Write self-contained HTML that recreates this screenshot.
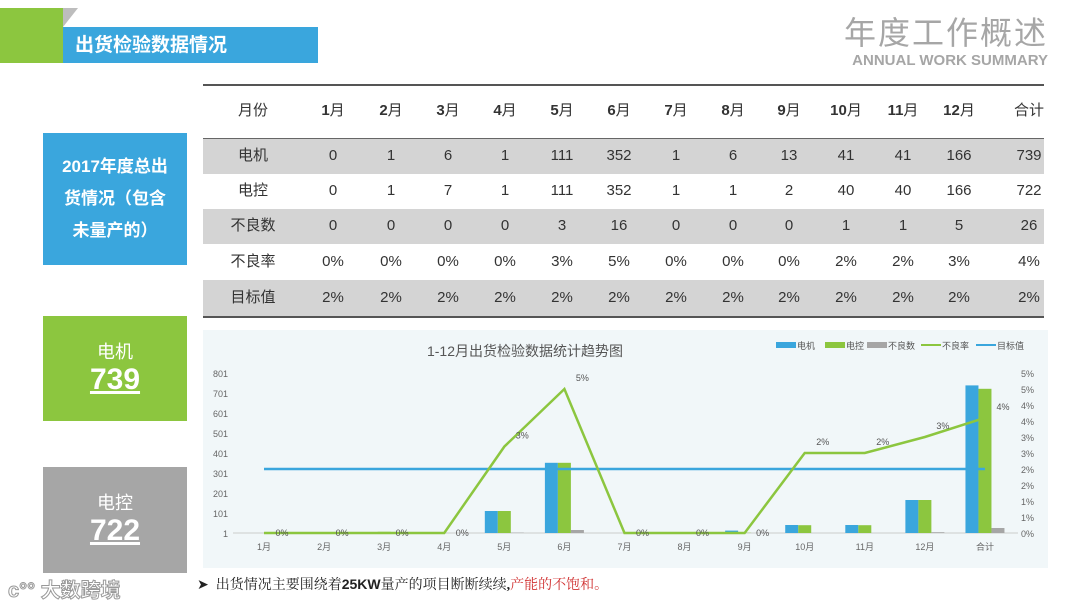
<!DOCTYPE html>
<html><head><meta charset="utf-8">
<style>
body{margin:0;width:1080px;height:608px;overflow:hidden;background:#fff;font-family:"Liberation Sans","Noto Sans CJK SC",sans-serif;position:relative}
.abs{position:absolute}
.cell{position:absolute;font-size:15px;color:#333;text-align:center;width:60px;line-height:20px}
.row{position:absolute;left:203px;width:841px}
</style></head><body>
<div class="abs" style="left:0;top:8px;width:63px;height:55px;background:#8cc63f"></div>
<div class="abs" style="left:63px;top:8px;width:0;height:0;border-left:15px solid #bdbdbd;border-top:0;border-bottom:19px solid transparent"></div>
<div class="abs" style="left:63px;top:27px;width:255px;height:36px;background:#3aa6dd;color:#fff;font-size:19px;line-height:38px;padding-left:12px;box-sizing:border-box;font-weight:bold">出货检验数据情况</div>
<div class="abs" style="right:32px;top:8px;font-size:32px;color:#a6a6a6;letter-spacing:2px">年度工作概述</div>
<div class="abs" style="right:32px;top:52px;font-size:15px;color:#a6a6a6;font-weight:bold">ANNUAL WORK SUMMARY</div>

<div class="abs" style="left:203px;top:84px;width:841px;height:2px;background:#555"></div>
<div id="tbl"></div>
<div class="abs" style="left:203px;top:316px;width:841px;height:2px;background:#555"></div>

<div class="abs" style="left:43px;top:133px;width:144px;height:132px;background:#3aa6dd;color:#fff;font-size:17px;line-height:32px;text-align:center;padding-top:18px;box-sizing:border-box;font-weight:bold">2017年度总出<br>货情况（包含<br>未量产的）</div>
<div class="abs" style="left:43px;top:316px;width:144px;height:105px;background:#8cc63f;color:#fff;text-align:center"><div style="font-size:18px;margin-top:22px">电机</div><div style="font-size:30px;font-weight:bold;text-decoration:underline;line-height:32px">739</div></div>
<div class="abs" style="left:43px;top:467px;width:144px;height:106px;background:#a6a6a6;color:#fff;text-align:center"><div style="font-size:18px;margin-top:22px">电控</div><div style="font-size:30px;font-weight:bold;text-decoration:underline;line-height:32px">722</div></div>
<div class="abs" style="left:8px;top:574px;font-size:20px;color:#fff;-webkit-text-stroke:1px #999;font-weight:bold">ᴄ°° 大数跨境</div>
<div class="abs" style="left:197px;top:574px;font-size:14px;color:#222;font-family:'Liberation Serif','Noto Serif CJK SC',serif">➤ &nbsp;出货情况主要围绕着<b style="font-family:'Liberation Sans',sans-serif">25KW</b>量产的项目断断续续<b>,</b><span style="color:#d03030">产能的不饱和。</span></div>

<svg id="chart" class="abs" style="left:203px;top:330px" width="845" height="238"></svg>

<script>
const months=["1月","2月","3月","4月","5月","6月","7月","8月","9月","10月","11月","12月","合计"];
const motor=[0,1,6,1,111,352,1,6,13,41,41,166,739];
const control=[0,1,7,1,111,352,1,1,2,40,40,166,722];
const defects=[0,0,0,0,3,16,0,0,0,1,1,5,26];
const rate=[0,0,0,0,2.7,4.5,0,0,0,2.5,2.5,3.0,3.6];
const rateLabels=["0%","0%","0%","0%","3%","5%","0%","0%","0%","2%","2%","3%","4%"];
const target=[2,2,2,2,2,2,2,2,2,2,2,2,2];
const targetLabels=["2%","2%","2%","2%","2%","2%","2%","2%","2%","2%","2%","2%","2%"];
const leftTicks=[1,101,201,301,401,501,601,701,801];
const rightTicks=[0,0.5,1,1.5,2,2.5,3,3.5,4,4.5,5];
const rowNames=["电机","电控","不良数","不良率","目标值"];

// table
const tbl=document.getElementById('tbl');
const colX=[253,333,391,448,505,562,619,676,733,789,846,903,959,1029];
const rowsY=[111,156,191,226,262,298];
const rowTops=[139,174,209,244,280];
for(let r=0;r<5;r++){
  const d=document.createElement('div');d.className='row';
  
  
  d.style.top=rowTops[r]+'px';d.style.height=(r==4?36:35)+'px';
  d.style.background=(r%2==0)?'#d4d4d4':'#fff';tbl.appendChild(d);
}
const ln=document.createElement('div');ln.className='abs';


ln.style.cssText='left:203px;top:138px;width:841px;height:1px;background:#666';tbl.appendChild(ln);
const rows=[motor,control,defects,rateLabels,targetLabels];
for(let c=0;c<14;c++){
  const h=document.createElement('div');h.className='cell';
  
  
  h.style.left=(colX[c]-30)+'px';h.style.top=(rowsY[0]-10)+'px';
  if(c==0)h.textContent='月份';else if(c==13)h.textContent='合计';
  else{const m=months[c-1];h.innerHTML='<b>'+m.replace('月','')+'</b>月';}
  tbl.appendChild(h);
  for(let r=0;r<5;r++){
    const e=document.createElement('div');e.className='cell';
    
    
    e.style.left=(colX[c]-30)+'px';e.style.top=(rowsY[r+1]-10)+'px';
    e.textContent=c==0?rowNames[r]:String(rows[r][c-1]);
    tbl.appendChild(e);
  }
}

// chart
const svg=document.getElementById('chart');const NS='http://www.w3.org/2000/svg';
function mk(t,a,p){const e=document.createElementNS(NS,t);for(const k in a)e.setAttribute(k,a[k]);(p||svg).appendChild(e);return e;}
const OX=203,OY=330;
const yL=v=>533-(v-1)*0.2-OY;
const yR=v=>533-v*32-OY;
const xC=i=>264+i*60.08-OX;
const bg=mk('rect',{x:0,y:0,width:845,height:238,fill:'#f1f7f9'});


const title=mk('text',{x:322,y:26,'font-size':14,fill:'#555','text-anchor':'middle'});
title.textContent='1-12月出货检验数据统计趋势图';


leftTicks.forEach(v=>{const t=mk('text',{x:25,y:yL(v)+4,'font-size':9,fill:'#666','text-anchor':'end'});t.textContent=v;

});
rightTicks.forEach(v=>{const t=mk('text',{x:818,y:yR(v)+4,'font-size':9,fill:'#666'});t.textContent=Math.round(v)+'%';

});
const ax=mk('line',{x1:30,x2:815,y1:yL(1),y2:yL(1),stroke:'#ccc'});


months.forEach((m,i)=>{const t=mk('text',{x:xC(i),y:yL(1)+17,'font-size':9,fill:'#666','text-anchor':'middle'});t.textContent=m;

});
const bw=13;
months.forEach((m,i)=>{
  const series=[[motor,'#3aa6dd','bar-motor'],[control,'#8cc63f','bar-control'],[defects,'#a6a6a6','bar-defects']];
  series.forEach((s,k)=>{const v=s[0][i];const y=yL(Math.max(v,1));
    const r=mk('rect',{x:xC(i)-bw*1.5+k*bw,y:Math.min(y,yL(1)),width:bw,height:Math.max(yL(1)-y,0),fill:s[1]});
    
    });
});
const tl=mk('polyline',{points:target.map((v,i)=>xC(i)+','+yR(v)).join(' '),fill:'none',stroke:'#3aa6dd','stroke-width':2.5});


const rl=mk('polyline',{points:rate.map((v,i)=>xC(i)+','+yR(v)).join(' '),fill:'none',stroke:'#8cc63f','stroke-width':2.5});


rate.forEach((v,i)=>{const t=mk('text',{x:xC(i)+18,y:yR(v)-(v>0?8:-3),'font-size':9,fill:'#555','text-anchor':'middle'});t.textContent=rateLabels[i];

});
const leg=[['电机','#3aa6dd','rect'],['电控','#8cc63f','rect'],['不良数','#a6a6a6','rect'],['不良率','#8cc63f','line'],['目标值','#3aa6dd','line']];
const legX=[573,622,664,718,773];
leg.forEach((l,i)=>{const x=legX[i];
  if(l[2]=='rect'){const r=mk('rect',{x:x,y:12,width:20,height:6,fill:l[1]});
    
    }
  else{const r=mk('line',{x1:x,x2:x+20,y1:15,y2:15,stroke:l[1],'stroke-width':2});
    
    }
  const t=mk('text',{x:x+21,y:19,'font-size':9,fill:'#555'});t.textContent=l[0];
  
  
});
</script>
</body></html>
